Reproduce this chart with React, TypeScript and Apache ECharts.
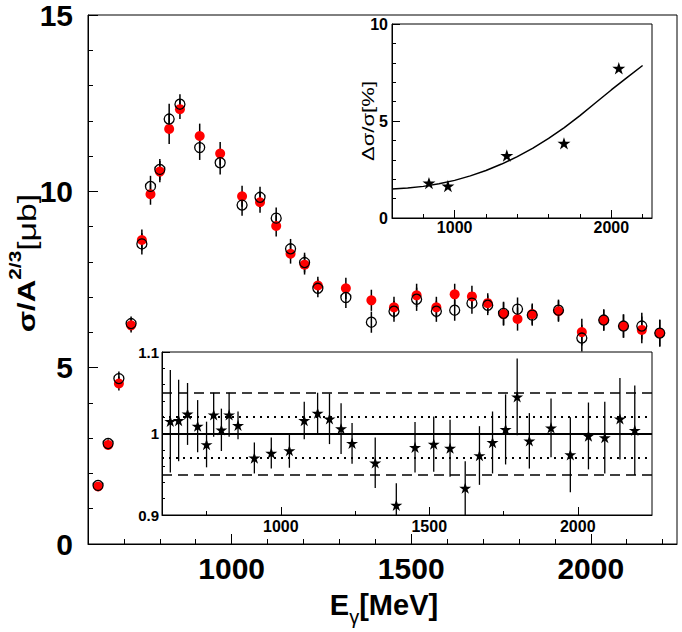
import React, { useEffect, useRef } from "react";
import * as echarts from "echarts";

// Photon energies (MeV) of the measured bins
const ENERGY = [628, 656, 686, 720, 750, 774, 800, 826, 856, 911, 968, 1029, 1079, 1124, 1164, 1203, 1240, 1318, 1389, 1452, 1515, 1570, 1621, 1669, 1713, 1757, 1796, 1837, 1910, 1975, 2036, 2091, 2142, 2192];
// Filled red markers
const RED = [1.63, 2.81, 4.55, 6.2, 8.62, 9.92, 10.56, 11.77, 12.33, 11.57, 11.07, 9.86, 9.69, 9.02, 8.23, 7.92, 7.33, 7.25, 6.91, 6.71, 7.05, 6.71, 7.08, 7.02, 6.83, 6.52, 6.38, 6.52, 6.6, 6.01, 6.35, 6.18, 6.07, 5.98];
// Open circles
const OPEN = [1.66, 2.85, 4.69, 6.25, 8.51, 10.14, 10.62, 12.05, 12.47, 11.24, 10.81, 9.61, 9.83, 9.24, 8.37, 7.98, 7.25, 6.99, 6.29, 6.6, 6.94, 6.6, 6.63, 6.83, 6.77, 6.54, 6.66, 6.49, 6.63, 5.84, 6.35, 6.18, 6.18, 5.98];
// Errors of the main points
const ERR = [0.1, 0.12, 0.2, 0.2, 0.3, 0.3, 0.3, 0.43, 0.28, 0.35, 0.33, 0.3, 0.3, 0.3, 0.28, 0.28, 0.25, 0.3, 0.3, 0.3, 0.33, 0.3, 0.3, 0.3, 0.28, 0.33, 0.33, 0.3, 0.3, 0.38, 0.3, 0.33, 0.38, 0.38];
// Ratio (lower inset)
const RATIO = [1.015, 1.016, 1.024, 1.009, 0.9865, 1.023, 1.0045, 1.023, 1.01, 0.97, 0.976, 0.979, 1.016, 1.025, 1.018, 1.006, 0.988, 0.964, 0.912, 0.983, 0.987, 0.982, 0.933, 0.973, 0.989, 1.005, 1.045, 0.991, 1.007, 0.974, 0.997, 0.995, 1.018, 1.004];
const RATIO_ERR = [0.063, 0.05, 0.038, 0.032, 0.028, 0.027, 0.026, 0.027, 0.017, 0.019, 0.019, 0.021, 0.023, 0.025, 0.031, 0.031, 0.025, 0.031, 0.027, 0.031, 0.034, 0.035, 0.033, 0.036, 0.038, 0.043, 0.047, 0.034, 0.036, 0.046, 0.041, 0.044, 0.05, 0.055];
const RATIO_LINES_SOLID = [1];
const RATIO_LINES_DOTTED = [1.025, 0.975];
const RATIO_LINES_DASHED = [1.05, 0.95];
// Upper inset: relative difference
const DELTA_E = [836, 957, 1333, 1698, 2048];
const DELTA = [1.8, 1.65, 3.22, 3.85, 7.72];
// Fit curve
const FIT_E = [600, 700, 800, 900, 1000, 1100, 1200, 1300, 1400, 1500, 1600, 1700, 1800, 1900, 2000, 2100, 2200];
const FIT_Y = [1.5, 1.55, 1.63, 1.76, 1.94, 2.17, 2.45, 2.78, 3.16, 3.6, 4.1, 4.66, 5.28, 5.94, 6.6, 7.24, 7.86];
// Ticks
const MAIN_X_MAJOR = [1000, 1500, 2000];
const MAIN_X_MINOR = [700, 800, 900, 1100, 1200, 1300, 1400, 1600, 1700, 1800, 1900, 2100, 2200];
const TOP_X_MAJOR = [1000, 2000];
const TOP_X_MINOR = [800, 1200, 1400, 1600, 1800, 2200];
const LOW_X_MAJOR = [1000, 1500, 2000];
const LOW_X_MINOR = [750, 1250, 1750];

const FONT = "Liberation Sans, Arial, Helvetica, sans-serif";
const STAR = "path://M50,0L61.2,34.5L97.6,34.5L68.2,55.9L79.4,90.5L50,69.1L20.6,90.5L31.8,55.9L2.4,34.5L38.8,34.5Z";

function errRender(width: number) {
  return (params: any, api: any) => {
    const x = api.value(0);
    const p1 = api.coord([x, api.value(1)]);
    const p2 = api.coord([x, api.value(2)]);
    return {
      type: "line",
      shape: { x1: p1[0], y1: p1[1], x2: p2[0], y2: p2[1] },
      style: { stroke: "#000", lineWidth: width },
    };
  };
}

function xAxisPair(gridIndex: number, min: number, max: number, major: number[], minor: number[], fontSize: number, margin: number, majLen: number, minLen: number) {
  return [
    {
      type: "value", gridIndex, min, max, position: "bottom",
      axisLine: { show: true, lineStyle: { color: "#000", width: 1 } },
      axisTick: { show: true, inside: true, length: majLen, customValues: major, lineStyle: { color: "#000" } },
      axisLabel: { show: true, customValues: major, formatter: (v: number) => String(v), fontFamily: FONT, fontWeight: "bold", fontSize, color: "#000", margin },
      splitLine: { show: false },
    },
    {
      type: "value", gridIndex, min, max, position: "bottom", offset: 0,
      axisLine: { show: false },
      axisTick: { show: true, inside: true, length: minLen, customValues: minor, lineStyle: { color: "#000" } },
      axisLabel: { show: false },
      splitLine: { show: false },
    },
  ];
}

export default function App() {
  const ref = useRef<HTMLDivElement>(null);
  useEffect(() => {
    document.body.style.margin = "0";
    const chart = echarts.init(ref.current!, null, { renderer: "svg" });
    const errRed = ENERGY.map((e, i) => [e, RED[i] - ERR[i], RED[i] + ERR[i]]);
    const errOpen = ENERGY.map((e, i) => [e, OPEN[i] - ERR[i], OPEN[i] + ERR[i]]);
    const errRatio = ENERGY.map((e, i) => [e, RATIO[i] - RATIO_ERR[i], RATIO[i] + RATIO_ERR[i]]);
    const xAxes = [
      ...xAxisPair(0, 600, 2240, MAIN_X_MAJOR, MAIN_X_MINOR, 30, 9, 10, 5),
      ...xAxisPair(1, 600, 2260, TOP_X_MAJOR, TOP_X_MINOR, 16, 1, 8, 4),
      ...xAxisPair(2, 600, 2250, LOW_X_MAJOR, LOW_X_MINOR, 16, 3, 8, 4),
    ];
    const yAx = (gridIndex: number, min: number, max: number, interval: number, fontSize: number, margin: number, majLen: number, minLen: number) => ({
      type: "value", gridIndex, min, max, interval,
      axisLine: { show: true, lineStyle: { color: "#000" } },
      axisTick: { show: true, inside: true, length: majLen, lineStyle: { color: "#000" } },
      minorTick: { show: true, splitNumber: 5, length: minLen, lineStyle: { color: "#000" } },
      axisLabel: { fontFamily: FONT, fontWeight: "bold", fontSize, color: "#000", margin },
      splitLine: { show: false },
    });
    const mkLines = [
      ...RATIO_LINES_SOLID.map((v) => ({ yAxis: v, lineStyle: { type: "solid", width: 2 } })),
      ...RATIO_LINES_DOTTED.map((v) => ({ yAxis: v, lineStyle: { type: [2, 5], width: 2 } })),
      ...RATIO_LINES_DASHED.map((v) => ({ yAxis: v, lineStyle: { type: [10, 6], width: 1.5 } })),
    ];
    chart.setOption({
      animation: false,
      backgroundColor: "#fff",
      grid: [
        { left: 88, top: 10, width: 589, height: 534, show: true, borderColor: "#000", borderWidth: 1, backgroundColor: "transparent" },
        { left: 392, top: 24, width: 260, height: 194, show: true, borderColor: "#000", borderWidth: 1, backgroundColor: "#fff" },
        { left: 162, top: 352, width: 490, height: 163, show: true, borderColor: "#000", borderWidth: 1, backgroundColor: "#fff" },
      ],
      xAxis: xAxes,
      yAxis: [
        yAx(0, 0, 15, 5, 30, 15, 10, 5),
        yAx(1, 0, 10, 5, 16, 4, 8, 4),
        yAx(2, 0.9, 1.1, 0.1, 15, 3, 8, 3),
      ],
      series: [
        { type: "custom", xAxisIndex: 0, yAxisIndex: 0, renderItem: errRender(1.5), data: errRed, encode: { x: 0, y: [1, 2] }, clip: true, z: 1 },
        { type: "custom", xAxisIndex: 0, yAxisIndex: 0, renderItem: errRender(1.5), data: errOpen, encode: { x: 0, y: [1, 2] }, clip: true, z: 1 },
        { type: "scatter", xAxisIndex: 0, yAxisIndex: 0, data: ENERGY.map((e, i) => [e, RED[i]]), symbol: "circle", symbolSize: 10, itemStyle: { color: "#ff0000", opacity: 1 }, z: 2 },
        { type: "scatter", xAxisIndex: 0, yAxisIndex: 0, data: ENERGY.map((e, i) => [e, OPEN[i]]), symbol: "circle", symbolSize: 10, itemStyle: { color: "rgba(0,0,0,0)", borderColor: "#000", borderWidth: 1.3, opacity: 1 }, z: 3 },
        { type: "line", xAxisIndex: 2, yAxisIndex: 1, data: FIT_E.map((e, i) => [e, FIT_Y[i]]), smooth: false, showSymbol: false, symbol: "none", lineStyle: { color: "#000", width: 1.5 }, z: 4 },
        { type: "scatter", xAxisIndex: 2, yAxisIndex: 1, data: DELTA_E.map((e, i) => [e, DELTA[i]]), symbol: STAR, symbolKeepAspect: true, symbolSize: 13, itemStyle: { color: "#000", opacity: 1 }, z: 5 },
        { type: "custom", xAxisIndex: 4, yAxisIndex: 2, renderItem: errRender(1.3), data: errRatio, encode: { x: 0, y: [1, 2] }, clip: true, z: 4 },
        {
          type: "scatter", xAxisIndex: 4, yAxisIndex: 2, data: ENERGY.map((e, i) => [e, RATIO[i]]), symbol: STAR, symbolKeepAspect: true, symbolSize: 12, itemStyle: { color: "#000", opacity: 1 }, z: 5,
          markLine: { silent: true, symbol: "none", label: { show: false }, lineStyle: { color: "#000" }, data: mkLines, z: 3 },
        },
      ],
      graphic: [
        {
          type: "text", x: 384, y: 605, z: 10,
          style: {
            text: "{b|E}{s|γ}{b|[MeV]}",
            align: "center", verticalAlign: "middle", textAlign: "center", textVerticalAlign: "middle",
            rich: {
              b: { fontFamily: FONT, fontWeight: "bold", fontSize: 29, lineHeight: 44, fill: "#000", color: "#000" },
              s: { fontFamily: FONT, fontWeight: "normal", fontSize: 20, lineHeight: 20, verticalAlign: "bottom", fill: "#000", color: "#000" },
            },
          },
        },
        {
          type: "text", x: 27, y: 263, rotation: Math.PI / 2, scaleX: 1.3, z: 10,
          style: {
            text: "{b|σ/A}{s|2/3}{n|[μb]}",
            align: "center", verticalAlign: "middle", textAlign: "center", textVerticalAlign: "middle",
            rich: {
              b: { fontFamily: FONT, fontWeight: "bold", fontSize: 24, lineHeight: 40, fill: "#000", color: "#000" },
              s: { fontFamily: FONT, fontWeight: "bold", fontSize: 16, lineHeight: 10, verticalAlign: "top", fill: "#000", color: "#000" },
              n: { fontFamily: FONT, fontWeight: "normal", fontSize: 26, lineHeight: 40, fill: "#000", color: "#000" },
            },
          },
        },
        {
          type: "text", x: 368, y: 121, rotation: Math.PI / 2, scaleX: 1.3, z: 10,
          style: {
            text: "Δσ/σ[%]", fontFamily: FONT, fontSize: 17, fill: "#000",
            align: "center", verticalAlign: "middle", textAlign: "center", textVerticalAlign: "middle",
          },
        },
      ],
    });
    return () => chart.dispose();
  }, []);
  return <div ref={ref} style={{ width: 682, height: 632 }} />;
}
